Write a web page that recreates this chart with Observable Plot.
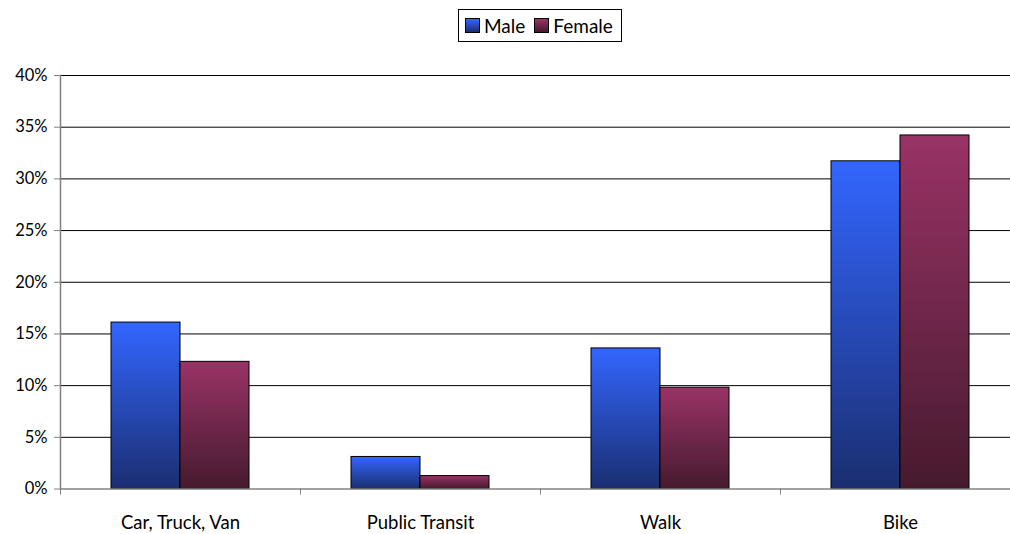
<!DOCTYPE html>
<html>
<head>
<meta charset="utf-8">
<script src="https://cdn.jsdelivr.net/npm/d3@7"></script>
<script src="https://cdn.jsdelivr.net/npm/@observablehq/plot@0.6"></script>
<style>
  html, body { margin: 0; padding: 0; background: #fff; overflow: hidden; }
  #wrap { position: relative; width: 1010px; height: 534px; overflow: hidden; font-family: Lato, "Open Sans", sans-serif; }
  #chart { position: absolute; left: 0; top: 0; }
  #chart svg { max-width: none !important; }
  #legend { position: absolute; left: 458px; top: 9px; width: 164px; height: 33px; border: 1px solid #000; box-sizing: border-box; background: #fff;
    display: flex; align-items: center; font-size: 19px; color: #000; z-index: 2; }
  .sw { display: inline-block; width: 13px; height: 13px; border: 1px solid #000; margin-left: 6px; margin-right: 4px; }
  .sw + span + .sw { margin-left: 9px; }
</style>
</head>
<body>
<div id="wrap">
  <div id="legend"></div>
  <div id="chart"></div>
</div>
<script>
const categories = ["Car, Truck, Van", "Public Transit", "Walk", "Bike"];
const series = ["Male", "Female"];
const male = [16.1, 3.1, 13.6, 31.7];
const female = [12.3, 1.25, 9.8, 34.2];
const yTicks = [0, 5, 10, 15, 20, 25, 30, 35, 40];

const gradients = {
  Male: ["#3366ff", "#1a2e70"],
  Female: ["#993366", "#461a2e"]
};

const rows = [];
categories.forEach((c, i) => {
  rows.push({category: c, sex: "Male", value: male[i]});
  rows.push({category: c, sex: "Female", value: female[i]});
});

const W = 1020, H = 534, ML = 60, MR = 0, MT = 75, MB = 45.5;
const bw = (W - ML - MR) / categories.length;
const outer = 0.2125 * bw;
const half = (bw - 2 * outer) / 2;

const defsMark = () => {
  const defs = d3.create("svg:defs");
  for (const [name, [c0, c1]] of Object.entries(gradients)) {
    const g = defs.append("linearGradient").attr("id", "g" + name)
      .attr("x1", 0).attr("y1", 0).attr("x2", 0).attr("y2", 1);
    g.append("stop").attr("offset", "0%").attr("stop-color", c0);
    g.append("stop").attr("offset", "100%").attr("stop-color", c1);
  }
  return defs.node();
};

const chart = Plot.plot({
  width: W,
  height: H,
  marginLeft: ML,
  marginRight: MR,
  marginTop: MT,
  marginBottom: MB,
  style: {fontFamily: "Lato, 'Open Sans', sans-serif", fontSize: "16px", color: "#000", background: "transparent", maxWidth: "none"},
  x: {domain: categories, padding: 0, axis: null, label: null},
  y: {domain: [0, 40], axis: null, label: null},
  marks: [
    defsMark,
    Plot.gridY(yTicks.filter(d => d > 0), {stroke: "#000", strokeOpacity: 1, strokeWidth: 1}),
    Plot.barY(rows.filter(d => d.sex === "Male"), {
      x: "category", y: "value", fill: "url(#gMale)", stroke: "#000", strokeWidth: 1,
      insetLeft: outer, insetRight: outer + half
    }),
    Plot.barY(rows.filter(d => d.sex === "Female"), {
      x: "category", y: "value", fill: "url(#gFemale)", stroke: "#000", strokeWidth: 1,
      insetLeft: outer + half, insetRight: outer
    }),
    Plot.ruleY([0], {stroke: "#808080", strokeWidth: 1.5}),
    Plot.frame({anchor: "left", stroke: "#808080", strokeWidth: 1.5}),
    Plot.axisY({ticks: yTicks, tickSize: 6, tickPadding: 7, tickFormat: d => d + "%", stroke: "#808080", fontSize: 16.5, label: null}),
    Plot.axisX({tickSize: 6, tickFormat: () => "", dx: -bw / 2, stroke: "#808080", label: null}),
    Plot.axisX({tickSize: 0, tickPadding: 27, fontSize: 18.5, label: null})
  ]
});
chart.style.maxWidth = "none";
document.getElementById("chart").appendChild(chart);

const legend = document.getElementById("legend");
series.forEach(s => {
  const sw = document.createElement("span");
  sw.className = "sw";
  sw.style.background = `linear-gradient(${gradients[s][0]}, ${gradients[s][1]})`;
  legend.appendChild(sw);
  const t = document.createElement("span");
  t.textContent = s;
  legend.appendChild(t);
});
</script>
</body>
</html>
